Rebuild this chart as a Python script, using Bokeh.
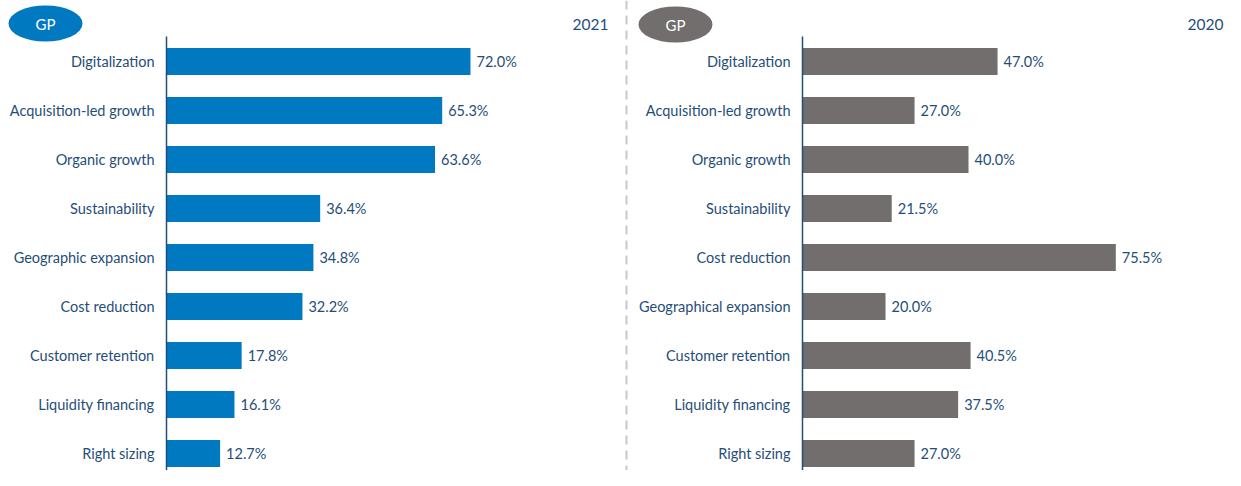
from bokeh.plotting import figure
from bokeh.models import Range1d, ColumnDataSource
from bokeh.core.properties import value
from bokeh.embed import file_html
from bokeh.resources import INLINE

# ---- data ----
cats_2021 = ["Digitalization", "Acquisition-led growth", "Organic growth", "Sustainability",
             "Geographic expansion", "Cost reduction", "Customer retention",
             "Liquidity financing", "Right sizing"]
vals_2021 = [72.0, 65.3, 63.6, 36.4, 34.8, 32.2, 17.8, 16.1, 12.7]
cats_2020 = ["Digitalization", "Acquisition-led growth", "Organic growth", "Sustainability",
             "Cost reduction", "Geographical expansion", "Customer retention",
             "Liquidity financing", "Right sizing"]
vals_2020 = [47.0, 27.0, 40.0, 21.5, 75.5, 20.0, 40.5, 37.5, 27.0]
badge_text = "GP"
year_left = "2021"
year_right = "2020"

# ---- layout (screenshot pixels) ----
W, H = 1225, 470
OX, OY = 0, 0
L_AXIS, L_SCALE = 166, 4.222
R_AXIS, R_SCALE = 802, 4.15
ROW0, ROW_STEP = 61, 49

def lx(px):
    return (px - L_AXIS) / L_SCALE

def rx(px):
    return (px - R_AXIS) / R_SCALE

def ry(py):
    return (py - ROW0) / ROW_STEP

BLUE = "#0079C1"
GREY = "#726E6D"
NAVY = "#1F4E79"
FONT = value("Lato")
FS = "14.5px"
BAR_H = 27 / ROW_STEP

p = figure(width=W, height=H, output_backend="svg", toolbar_location=None,
           x_axis_type=None, y_axis_type=None, min_border=0,
           x_range=Range1d(lx(OX), lx(OX + W)),
           y_range=Range1d(ry(OY + H), ry(OY)))
p.extra_x_ranges = {"r": Range1d(rx(OX), rx(OX + W))}
p.outline_line_color = None
p.xgrid.visible = False
p.ygrid.visible = False
p.background_fill_color = "white"
p.border_fill_color = "white"

idx = list(range(len(cats_2021)))
src_l = ColumnDataSource(dict(y=idx, v=vals_2021, c=cats_2021,
                              t=[f"{v:.1f}%" for v in vals_2021]))
src_r = ColumnDataSource(dict(y=idx, v=vals_2020, c=cats_2020,
                              t=[f"{v:.1f}%" for v in vals_2020]))

# separator
p.segment(x0=[lx(626)], y0=[ry(OY)], x1=[lx(626)], y1=[ry(OY + H)],
          line_color="#C8C8C8", line_width=2, line_dash="9 6")

# left panel
p.hbar(y="y", left=0, right="v", height=BAR_H, source=src_l, color=BLUE, line_color=None)
p.segment(x0=[0], y0=[ry(36)], x1=[0], y1=[ry(OY + H)], line_color=NAVY, line_width=1.5)
p.text(x=0, y="y", text="c", source=src_l, x_offset=-12, text_align="right",
       text_baseline="middle", text_font=FONT, text_font_size=FS, text_color=NAVY)
p.text(x="v", y="y", text="t", source=src_l, x_offset=6, text_align="left",
       text_baseline="middle", text_font=FONT, text_font_size=FS, text_color=NAVY)
p.ellipse(x=[lx(45)], y=[ry(23)], width=74, height=36, width_units="screen",
          height_units="screen", fill_color=BLUE, line_color=None)
p.text(x=[lx(45)], y=[ry(23)], text=[badge_text], text_align="center", text_baseline="middle",
       text_font=FONT, text_font_size="15px", text_color="white")
p.text(x=[lx(608)], y=[ry(24)], text=[year_left], text_align="right", text_baseline="middle",
       text_font=FONT, text_font_size="15.5px", text_color=NAVY)

# right panel
p.hbar(y="y", left=0, right="v", height=BAR_H, source=src_r, color=GREY, line_color=None,
       x_range_name="r")
p.segment(x0=[0], y0=[ry(36)], x1=[0], y1=[ry(OY + H)], line_color=NAVY, line_width=1.5,
          x_range_name="r")
p.text(x=0, y="y", text="c", source=src_r, x_offset=-12, text_align="right",
       text_baseline="middle", text_font=FONT, text_font_size=FS, text_color=NAVY,
       x_range_name="r")
p.text(x="v", y="y", text="t", source=src_r, x_offset=6, text_align="left",
       text_baseline="middle", text_font=FONT, text_font_size=FS, text_color=NAVY,
       x_range_name="r")
p.ellipse(x=[rx(675)], y=[ry(24)], width=74, height=36, width_units="screen",
          height_units="screen", fill_color=GREY, line_color=None, x_range_name="r")
p.text(x=[rx(675)], y=[ry(24)], text=[badge_text], text_align="center", text_baseline="middle",
       text_font=FONT, text_font_size="15px", text_color="white", x_range_name="r")
p.text(x=[rx(1223)], y=[ry(24)], text=[year_right], text_align="right", text_baseline="middle",
       text_font=FONT, text_font_size="15.5px", text_color=NAVY, x_range_name="r")

open("out.html", "w").write(file_html(p, INLINE))
